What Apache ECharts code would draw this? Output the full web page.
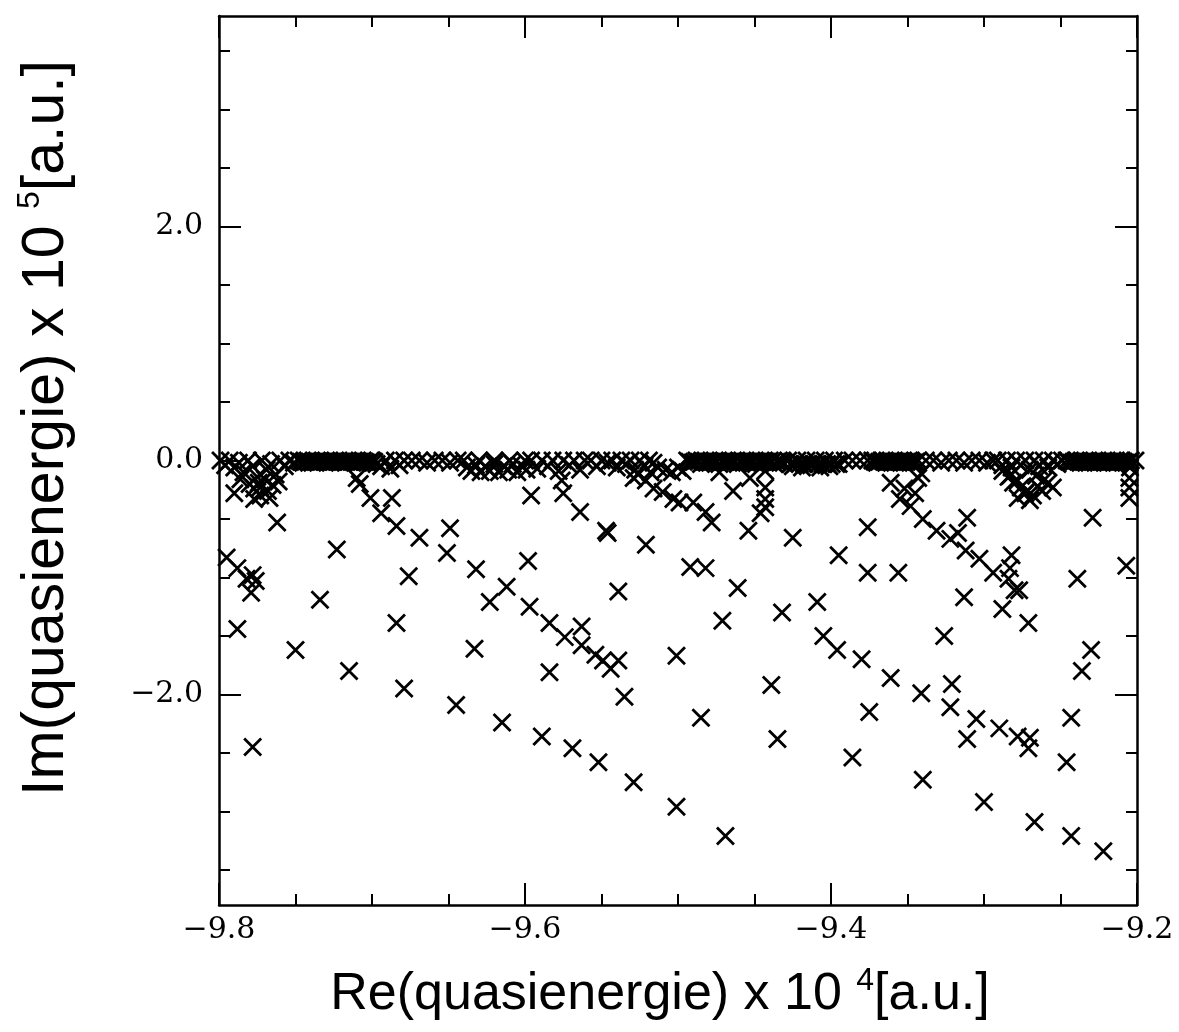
<!DOCTYPE html>
<html>
<head>
<meta charset="utf-8">
<script src="https://cdn.jsdelivr.net/npm/echarts@6/dist/echarts.min.js"></script>
<style>
html,body{margin:0;padding:0;background:#fff;}
#chart{width:1179px;height:1032px;}
</style>
</head>
<body>
<div id="chart"></div>
<script>
// Re(quasienergie) x 1e4, Im(quasienergie) x 1e5 — dense band of quasi-bound states near Im = 0
const bandPoints = [
  [-9.799,0],[-9.796,-0.04],[-9.793,0],[-9.790,-0.06],[-9.787,-0.02],[-9.784,-0.10],[-9.781,0],[-9.778,-0.05],[-9.775,-0.14],[-9.772,0],[-9.769,-0.08],[-9.766,-0.03],[-9.763,-0.12],[-9.760,0],[-9.757,-0.05],[-9.754,0],[-9.751,-0.02],
  [-9.786,-0.16],[-9.780,-0.20],[-9.777,-0.24],[-9.774,-0.19],[-9.770,-0.16],[-9.768,-0.26],[-9.765,-0.21],[-9.761,-0.18],[-9.773,-0.30],
  [-9.748,0],[-9.745,-0.02],[-9.742,0],[-9.739,-0.02],[-9.736,0],[-9.733,-0.01],[-9.730,0],[-9.727,-0.02],[-9.724,0],[-9.721,-0.02],[-9.718,0],[-9.715,-0.01],[-9.712,0],[-9.709,-0.02],[-9.706,0],[-9.703,-0.02],[-9.700,0],[-9.697,-0.03],
  [-9.694,-0.05],[-9.691,0],[-9.688,-0.07],[-9.685,0],[-9.682,-0.04],[-9.679,0],
  [-9.674,0],[-9.669,0],[-9.664,-0.02],[-9.659,0],[-9.654,0],[-9.649,-0.02],[-9.644,0],
  [-9.640,0],[-9.638,-0.06],[-9.635,-0.09],[-9.632,-0.04],[-9.629,-0.10],[-9.626,-0.05],[-9.623,-0.09],[-9.620,-0.03],[-9.617,-0.10],[-9.614,-0.05],[-9.611,-0.08],[-9.608,-0.03],[-9.605,-0.10],[-9.602,-0.05],[-9.599,-0.08],[-9.630,0],[-9.620,0],[-9.610,0],[-9.600,0],
  [-9.596,0],[-9.592,-0.07],[-9.589,0],[-9.585,-0.05],[-9.582,0],[-9.578,-0.09],[-9.575,0],[-9.571,-0.04],[-9.568,0],[-9.564,-0.08],[-9.561,0],[-9.557,0],[-9.553,-0.05],[-9.550,0],[-9.546,-0.02],[-9.543,0],[-9.540,-0.06],
  [-9.537,0],[-9.534,-0.03],[-9.531,0],[-9.528,-0.08],[-9.525,0],[-9.522,-0.05],[-9.519,0],[-9.516,-0.02],[-9.513,-0.06],[-9.526,-0.12],[-9.521,-0.17],[-9.518,-0.10],
  [-9.508,-0.08],[-9.504,-0.10],[-9.500,-0.06],[-9.497,-0.09],
  [-9.494,0],[-9.491,-0.02],[-9.488,0],[-9.485,-0.03],[-9.482,0],[-9.479,-0.02],[-9.476,0],[-9.473,-0.03],[-9.470,0],[-9.467,-0.02],[-9.464,0],[-9.461,-0.03],[-9.458,0],[-9.455,-0.02],[-9.452,0],[-9.449,-0.03],[-9.446,0],[-9.443,-0.02],[-9.440,0],[-9.437,-0.03],[-9.434,0],[-9.431,-0.02],
  [-9.428,0],[-9.425,-0.05],[-9.422,0],[-9.419,-0.06],[-9.416,0],[-9.413,-0.04],[-9.410,0],[-9.407,-0.06],[-9.404,0],[-9.401,-0.05],[-9.398,0],[-9.395,-0.03],
  [-9.391,0],[-9.386,0],[-9.381,0],[-9.376,0],
  [-9.373,0],[-9.370,-0.02],[-9.367,0],[-9.364,-0.02],[-9.361,0],[-9.358,-0.02],[-9.355,0],[-9.352,-0.02],[-9.349,0],[-9.346,-0.02],[-9.343,0],
  [-9.338,0],[-9.333,0],[-9.328,-0.02],[-9.323,0],[-9.318,0],[-9.313,-0.02],[-9.308,0],[-9.303,0],[-9.298,-0.02],[-9.294,0],
  [-9.291,0],[-9.288,-0.04],[-9.285,0],[-9.282,-0.06],[-9.279,0],[-9.276,-0.04],[-9.273,0],[-9.270,-0.08],[-9.267,0],[-9.264,-0.05],[-9.261,0],[-9.258,-0.06],[-9.255,0],[-9.252,-0.03],[-9.249,0],
  [-9.284,-0.14],[-9.281,-0.19],[-9.276,-0.23],[-9.273,-0.28],[-9.268,-0.30],[-9.265,-0.22],[-9.262,-0.26],[-9.258,-0.19],[-9.266,-0.13],
  [-9.246,0],[-9.243,-0.02],[-9.240,0],[-9.237,-0.02],[-9.234,0],[-9.231,-0.02],[-9.228,0],[-9.225,-0.02],[-9.222,0],[-9.219,-0.02],[-9.216,0],[-9.213,-0.02],[-9.210,0],[-9.207,-0.02],[-9.204,0],[-9.201,0],
  [-9.2046,-0.06]
];

// Extra states where the band prints as a solid black strip
const bandSolidPoints = [
  [-9.7465,-0.01],[-9.7435,-0.01],[-9.7405,-0.01],[-9.7375,-0.01],[-9.7345,-0.01],[-9.7315,-0.01],[-9.7285,-0.01],[-9.7255,-0.01],[-9.7225,-0.01],[-9.7195,-0.01],[-9.7165,-0.01],[-9.7135,-0.01],[-9.7105,-0.01],[-9.7075,-0.01],[-9.7045,-0.01],[-9.7015,-0.01],[-9.6985,-0.01],
  [-9.4925,-0.01],[-9.4895,-0.01],[-9.4865,-0.01],[-9.4835,-0.01],[-9.4805,-0.01],[-9.4775,-0.01],[-9.4745,-0.01],[-9.4715,-0.01],[-9.4685,-0.01],[-9.4655,-0.01],[-9.4625,-0.01],[-9.4595,-0.01],[-9.4565,-0.01],[-9.4535,-0.01],[-9.4505,-0.01],[-9.4475,-0.01],[-9.4445,-0.01],[-9.4415,-0.01],[-9.4385,-0.01],[-9.4355,-0.01],[-9.4325,-0.01],
  [-9.4265,-0.03],[-9.4235,-0.03],[-9.4205,-0.03],[-9.4175,-0.03],[-9.4145,-0.03],[-9.4115,-0.03],[-9.4085,-0.03],[-9.4055,-0.03],[-9.4025,-0.03],[-9.3995,-0.03],[-9.3965,-0.03],
  [-9.3715,-0.01],[-9.3685,-0.01],[-9.3655,-0.01],[-9.3625,-0.01],[-9.3595,-0.01],[-9.3565,-0.01],[-9.3535,-0.01],[-9.3505,-0.01],[-9.3475,-0.01],[-9.3445,-0.01],
  [-9.2445,-0.01],[-9.2415,-0.01],[-9.2385,-0.01],[-9.2355,-0.01],[-9.2325,-0.01],[-9.2295,-0.01],[-9.2265,-0.01],[-9.2235,-0.01],[-9.2205,-0.01],[-9.2175,-0.01],[-9.2145,-0.01],[-9.2115,-0.01],[-9.2085,-0.01],[-9.2055,-0.01]
];

// Resonances spread below the real axis
const scatteredPoints = [
  [-9.790,-0.28],[-9.777,-0.33],[-9.767,-0.32],[-9.773,-0.23],[-9.762,-0.53],[-9.723,-0.76],
  [-9.795,-0.83],[-9.788,-0.92],[-9.778,-0.98],[-9.782,-1.01],[-9.776,-1.03],[-9.779,-1.13],
  [-9.788,-1.44],[-9.778,-2.45],[-9.734,-1.19],[-9.750,-1.62],[-9.715,-1.80],[-9.679,-1.95],
  [-9.684,-1.39],[-9.676,-0.99],[-9.632,-0.93],[-9.645,-2.09],[-9.615,-2.24],[-9.633,-1.61],
  [-9.612,-1.08],[-9.623,-1.21],
  [-9.710,-0.15],[-9.708,-0.20],[-9.701,-0.32],[-9.687,-0.32],[-9.694,-0.45],[-9.684,-0.56],
  [-9.669,-0.66],[-9.649,-0.58],[-9.651,-0.79],
  [-9.596,-0.30],[-9.598,-0.86],[-9.575,-0.28],[-9.576,-0.17],[-9.564,-0.44],[-9.547,-0.60],
  [-9.546,-0.62],[-9.521,-0.72],
  [-9.597,-1.25],[-9.584,-1.39],[-9.574,-1.51],[-9.563,-1.42],[-9.563,-1.58],[-9.554,-1.66],
  [-9.549,-1.71],[-9.539,-1.71],[-9.544,-1.78],[-9.539,-1.12],[-9.584,-1.81],[-9.535,-2.02],
  [-9.501,-1.67],[-9.461,-1.09],[-9.471,-1.37],[-9.485,-2.20],[-9.432,-1.30],[-9.409,-1.21],
  [-9.405,-1.50],[-9.439,-1.92],[-9.435,-2.38],
  [-9.589,-2.36],[-9.569,-2.46],[-9.552,-2.58],[-9.529,-2.75],[-9.501,-2.96],[-9.469,-3.21],
  [-9.492,-0.91],[-9.482,-0.92],
  [-9.529,-0.15],[-9.516,-0.24],[-9.510,-0.27],[-9.503,-0.33],[-9.499,-0.36],[-9.490,-0.36],
  [-9.482,-0.44],[-9.478,-0.53],
  [-9.464,-0.26],[-9.473,-0.10],[-9.453,-0.15],
  [-9.443,-0.09],[-9.443,-0.23],[-9.443,-0.33],[-9.443,-0.40],
  [-9.446,-0.45],[-9.454,-0.60],[-9.425,-0.66],
  [-9.395,-0.81],[-9.376,-0.57],[-9.376,-0.96],[-9.356,-0.96],
  [-9.361,-0.19],[-9.352,-0.24],[-9.345,-0.28],[-9.355,-0.33],[-9.348,-0.39],[-9.343,-0.15],
  [-9.341,-0.11],[-9.340,-0.50],[-9.331,-0.60],[-9.322,-0.67],[-9.317,-0.62],[-9.311,-0.49],
  [-9.312,-0.77],[-9.303,-0.84],[-9.294,-0.96],[-9.282,-0.81],[-9.283,-0.92],[-9.284,-1.01],
  [-9.280,-1.11],[-9.277,-1.11],[-9.288,-1.27],[-9.271,-1.39],[-9.313,-1.17],[-9.326,-1.50],
  [-9.239,-1.01],[-9.229,-0.49],[-9.207,-0.90],
  [-9.230,-1.62],[-9.236,-1.80],[-9.243,-2.20],[-9.246,-2.58],[-9.267,-3.09],[-9.243,-3.21],
  [-9.222,-3.34],
  [-9.396,-1.62],[-9.380,-1.70],[-9.361,-1.86],[-9.341,-1.99],[-9.321,-1.91],[-9.322,-2.11],
  [-9.305,-2.21],[-9.290,-2.29],[-9.278,-2.36],[-9.270,-2.37],[-9.271,-2.46],[-9.311,-2.38],
  [-9.375,-2.15],[-9.386,-2.54],[-9.340,-2.73],[-9.300,-2.92],
  [-9.278,-0.32],[-9.270,-0.34],[-9.272,-0.26],[-9.261,-0.17],[-9.255,-0.23],[-9.278,-0.17],
  [-9.283,-0.13],[-9.288,-0.09],
  [-9.205,-0.15],[-9.205,-0.23],[-9.205,-0.32]
];

const xRange = [-9.8, -9.2];
const xMajorStep = 0.2;
const yRange = [-3.8, 3.8];
const yLabelValues = [-2, 0, 2];
const yMinorTicks = [-3.5,-3,-2.5,-1.5,-1,-0.5,0.5,1,1.5,2.5,3,3.5];

const xTitle = ['Re(quasienergie) x 10 ', '4', '[a.u.]'];
const yTitle = ['Im(quasienergie) x 10 ', '5', '[a.u.]'];

const fmt = v => (v < -1e-9 ? '\u2212' : '') + Math.abs(v).toFixed(1);
const black = '#000';
const lineStyle = {color: black, width: 2.5};
const tickStyle = {color: black, width: 2};
const labelStyle = {fontFamily: 'DejaVu Serif', fontSize: 30, color: black};

function xAxisDef(pos, withLabels) {
  return {
    type: 'value', position: pos, min: xRange[0], max: xRange[1], interval: xMajorStep,
    axisLine: {show: true, onZero: false, lineStyle},
    axisTick: {show: true, inside: true, length: 22, lineStyle: tickStyle},
    minorTick: {show: true, splitNumber: 4, length: 11, lineStyle: tickStyle},
    axisLabel: Object.assign({show: withLabels, margin: 10, formatter: fmt, showMinLabel: true, showMaxLabel: true}, labelStyle),
    splitLine: {show: false}, minorSplitLine: {show: false}
  };
}
function yAxisMajor(pos, withLabels) {
  return {
    type: 'value', position: pos, min: yRange[0], max: yRange[1],
    axisLine: {show: true, onZero: false, lineStyle},
    axisTick: {show: true, inside: true, length: 22, lineStyle: tickStyle, customValues: yLabelValues},
    axisLabel: Object.assign({show: withLabels, margin: 16, formatter: fmt, customValues: yLabelValues}, labelStyle),
    splitLine: {show: false}
  };
}
function yAxisMinor(pos) {
  return {
    type: 'value', position: pos, min: yRange[0], max: yRange[1], offset: 0,
    axisLine: {show: false, onZero: false},
    axisTick: {show: true, inside: true, length: 11, lineStyle: tickStyle, customValues: yMinorTicks},
    axisLabel: {show: false},
    splitLine: {show: false}
  };
}

const chart = echarts.init(document.getElementById('chart'), null, {renderer: 'canvas'});
const markerStyle = {color: 'transparent', borderColor: black, borderWidth: 2.8, opacity: 1};
const crossSymbol = 'path://M0,0L10,10M10,0L0,10';
const sup = {fontFamily: 'Liberation Sans', fontSize: 32, fill: black, verticalAlign: 'top'};

function scatterSeries(data) {
  return {type: 'scatter', xAxisIndex: 0, yAxisIndex: 0, data, symbol: crossSymbol, symbolSize: 17, itemStyle: markerStyle, clip: false, silent: true};
}

chart.setOption({
  animation: false,
  backgroundColor: '#fff',
  grid: {left: 219, top: 16, right: 42, bottom: 127, containLabel: false},
  xAxis: [xAxisDef('bottom', true), xAxisDef('top', false)],
  yAxis: [yAxisMajor('left', true), yAxisMinor('left'), yAxisMajor('right', false), yAxisMinor('right')],
  series: [scatterSeries(bandPoints), scatterSeries(bandSolidPoints), scatterSeries(scatteredPoints)],
  graphic: [
    {type: 'text', x: 660, y: 995, style: {
      text: '{a|' + xTitle[0] + '}{s|' + xTitle[1] + '}{a|' + xTitle[2] + '}',
      align: 'center', verticalAlign: 'middle',
      rich: {a: {fontFamily: 'Liberation Sans', fontSize: 52, fill: black, lineHeight: 60}, s: sup}
    }},
    {type: 'text', x: 47, y: 428, rotation: Math.PI / 2, style: {
      text: '{a|' + yTitle[0] + '}{s|' + yTitle[1] + '}{a|' + yTitle[2] + '}',
      align: 'center', verticalAlign: 'middle',
      rich: {a: {fontFamily: 'Liberation Sans', fontSize: 59, fill: black, lineHeight: 66}, s: sup}
    }}
  ]
});
</script>
</body>
</html>
